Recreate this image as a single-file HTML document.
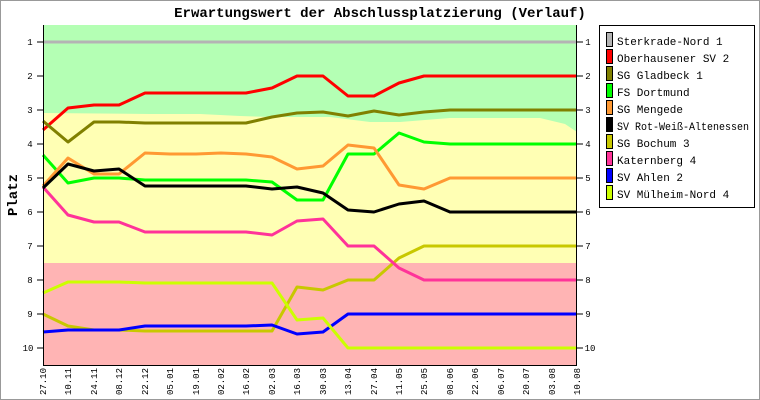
<!DOCTYPE html>
<html><head><meta charset="utf-8"><style>
body{margin:0;background:#fff}
svg{display:block}
text{font-family:"Liberation Mono","DejaVu Sans Mono",monospace}
</style></head><body>
<svg width="760" height="400" viewBox="0 0 760 400" xmlns="http://www.w3.org/2000/svg">
<rect x="0.5" y="0.5" width="759" height="399" fill="#fff" stroke="#999"/>
<text x="380" y="17" text-anchor="middle" font-size="14" font-weight="bold">Erwartungswert der Abschlussplatzierung (Verlauf)</text>
<rect x="43" y="25" width="534" height="340" fill="#ffffb4"/>
<polygon points="43,25 577,25 577,132 565,124 540,118 450,118 400,122 370,122 330,117 272,117 240,116 200,114 150,114 43,113" fill="#b4ffb4"/>
<rect x="43" y="263" width="534" height="102" fill="#ffb4b4"/>
<g fill="none" stroke-width="3" stroke-linejoin="round">
<polyline stroke="#b4b4b4" points="43,42 577,42"/>
<polyline stroke="#ff0000" points="43,130 68,108 94,105 119,105 145,93 170,93 196,93 221,93 246,93 272,88 297,76 323,76 348,96 374,96 399,83 424,76 450,76 475,76 501,76 526,76 552,76 577,76"/>
<polyline stroke="#808000" points="43,121 68,142 94,122 119,122 145,123 170,123 196,123 221,123 246,123 272,117 297,113 323,112 348,116 374,111 399,115 424,112 450,110 475,110 501,110 526,110 552,110 577,110"/>
<polyline stroke="#00ff00" points="43,155 68,183 94,178 119,178 145,180 170,180 196,180 221,180 246,180 272,182 297,200 323,200 348,154 374,154 399,133 424,142 450,144 475,144 501,144 526,144 552,144 577,144"/>
<polyline stroke="#ff9933" points="43,186 68,158 94,174 119,174 145,153 170,154 196,154 221,153 246,154 272,157 297,169 323,166 348,145 374,148 399,185 424,189 450,178 475,178 501,178 526,178 552,178 577,178"/>
<polyline stroke="#c8c800" points="43,314 68,326 94,330 119,330 145,331 170,331 196,331 221,331 246,331 272,331 297,287 323,290 348,280 374,280 399,258 424,246 450,246 475,246 501,246 526,246 552,246 577,246"/>
<polyline stroke="#ff3399" points="43,187 68,215 94,222 119,222 145,232 170,232 196,232 221,232 246,232 272,235 297,221 323,219 348,246 374,246 399,268 424,280 450,280 475,280 501,280 526,280 552,280 577,280"/>
<polyline stroke="#0000ff" points="43,332 68,330 94,330 119,330 145,326 170,326 196,326 221,326 246,326 272,325 297,334 323,332 348,314 374,314 399,314 424,314 450,314 475,314 501,314 526,314 552,314 577,314"/>
<polyline stroke="#ccff00" points="43,293 68,282 94,282 119,282 145,283 170,283 196,283 221,283 246,283 272,283 297,320 323,318 348,348 374,348 399,348 424,348 450,348 475,348 501,348 526,348 552,348 577,348"/>
<polyline stroke="#000000" points="43,188 68,164 94,171 119,169 145,186 170,186 196,186 221,186 246,186 272,189 297,187 323,193 348,210 374,212 399,204 424,201 450,212 475,212 501,212 526,212 552,212 577,212"/>
</g>
<g stroke="#000" stroke-width="1">
<line x1="43.5" y1="25" x2="43.5" y2="365"/>
<line x1="576.5" y1="25" x2="576.5" y2="365"/>
<line x1="43" y1="365.5" x2="577" y2="365.5"/>
</g>
<g font-size="9" text-anchor="middle">
<text x="30" y="45">1</text><text x="30" y="79">2</text><text x="30" y="113">3</text><text x="30" y="147">4</text><text x="30" y="181">5</text><text x="30" y="215">6</text><text x="30" y="249">7</text><text x="30" y="283">8</text><text x="30" y="317">9</text><text x="28" y="351">10</text>
<text x="588" y="45">1</text><text x="588" y="79">2</text><text x="588" y="113">3</text><text x="588" y="147">4</text><text x="588" y="181">5</text><text x="588" y="215">6</text><text x="588" y="249">7</text><text x="588" y="283">8</text><text x="588" y="317">9</text><text x="590" y="351">10</text>
</g>
<g stroke="#000">
<path d="M37 42h6M37 76h6M37 110h6M37 144h6M37 178h6M37 212h6M37 246h6M37 280h6M37 314h6M37 348h6M577 42h6M577 76h6M577 110h6M577 144h6M577 178h6M577 212h6M577 246h6M577 280h6M577 314h6M577 348h6"/>
</g>
<text transform="translate(17,195) rotate(-90)" text-anchor="middle" font-size="14" font-weight="bold">Platz</text>
<g font-size="9" text-anchor="end">
<text transform="translate(46,368) rotate(-90)">27.10</text>
<text transform="translate(71,368) rotate(-90)">10.11</text>
<text transform="translate(97,368) rotate(-90)">24.11</text>
<text transform="translate(122,368) rotate(-90)">08.12</text>
<text transform="translate(148,368) rotate(-90)">22.12</text>
<text transform="translate(173,368) rotate(-90)">05.01</text>
<text transform="translate(199,368) rotate(-90)">19.01</text>
<text transform="translate(224,368) rotate(-90)">02.02</text>
<text transform="translate(249,368) rotate(-90)">16.02</text>
<text transform="translate(275,368) rotate(-90)">02.03</text>
<text transform="translate(300,368) rotate(-90)">16.03</text>
<text transform="translate(326,368) rotate(-90)">30.03</text>
<text transform="translate(351,368) rotate(-90)">13.04</text>
<text transform="translate(377,368) rotate(-90)">27.04</text>
<text transform="translate(402,368) rotate(-90)">11.05</text>
<text transform="translate(427,368) rotate(-90)">25.05</text>
<text transform="translate(453,368) rotate(-90)">08.06</text>
<text transform="translate(478,368) rotate(-90)">22.06</text>
<text transform="translate(504,368) rotate(-90)">06.07</text>
<text transform="translate(529,368) rotate(-90)">20.07</text>
<text transform="translate(555,368) rotate(-90)">03.08</text>
<text transform="translate(580,368) rotate(-90)">10.08</text>
</g>
<rect x="599.5" y="25.5" width="155" height="182" fill="#fff" stroke="#000"/>
<g stroke="#000" stroke-width="1">
<rect x="606.5" y="32.5" width="6" height="14" fill="#b4b4b4"/>
<rect x="606.5" y="49.5" width="6" height="14" fill="#ff0000"/>
<rect x="606.5" y="66.5" width="6" height="14" fill="#808000"/>
<rect x="606.5" y="83.5" width="6" height="14" fill="#00ff00"/>
<rect x="606.5" y="100.5" width="6" height="14" fill="#ff9933"/>
<rect x="606.5" y="117.5" width="6" height="14" fill="#000000"/>
<rect x="606.5" y="134.5" width="6" height="14" fill="#c8c800"/>
<rect x="606.5" y="151.5" width="6" height="14" fill="#ff3399"/>
<rect x="606.5" y="168.5" width="6" height="14" fill="#0000ff"/>
<rect x="606.5" y="185.5" width="6" height="14" fill="#ccff00"/>
</g>
<g font-size="11">
<text x="617" y="45">Sterkrade-Nord 1</text>
<text x="617" y="62">Oberhausener SV 2</text>
<text x="617" y="79">SG Gladbeck 1</text>
<text x="617" y="96">FS Dortmund</text>
<text x="617" y="113">SG Mengede</text>
<text x="617" y="130" textLength="132" lengthAdjust="spacingAndGlyphs">SV Rot-Weiß-Altenessen</text>
<text x="617" y="147">SG Bochum 3</text>
<text x="617" y="164">Katernberg 4</text>
<text x="617" y="181">SV Ahlen 2</text>
<text x="617" y="198">SV Mülheim-Nord 4</text>
</g>
</svg>
</body></html>
